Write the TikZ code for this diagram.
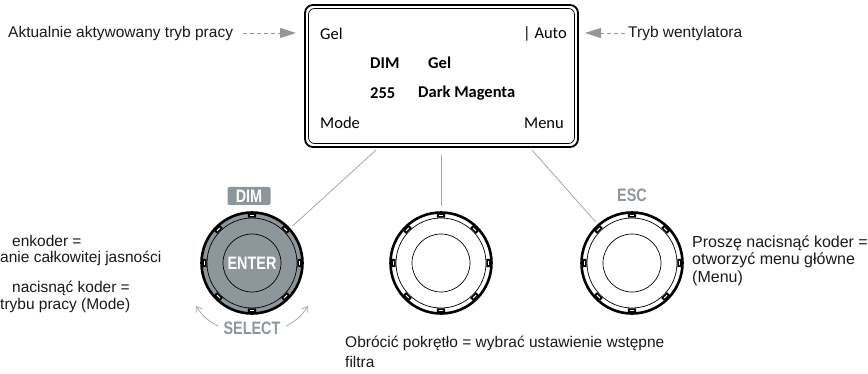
\documentclass[tikz,border=0pt]{standalone}
\usepackage{fontspec}
\setmainfont{Liberation Sans}
\newfontfamily\dispfont{Carlito}
\newfontfamily\capfont{Liberation Sans Bold}[FakeStretch=0.8]
\usetikzlibrary{arrows.meta}
\definecolor{knobgray}{RGB}{141,151,155}
\definecolor{tipgray}{RGB}{150,150,150}
\definecolor{leadgray}{RGB}{160,168,170}
\tikzset{
  desc/.style={font=\fontsize{15.5}{17.5}\selectfont, inner sep=0pt, text=black!90},
  disp/.style={font=\dispfont\fontsize{16.5}{19}\selectfont, inner sep=0pt},
  dispb/.style={font=\dispfont\bfseries\fontsize{16.5}{19}\selectfont, inner sep=0pt},
  pointer/.style={tipgray, dash pattern=on 4pt off 3pt, line width=0.9pt,
    -{Triangle[length=16pt,width=10pt]}},
  lead/.style={leadgray, line width=0.8pt, shorten >=3pt},
  knob/.style={circle, draw, line width=2.6pt, minimum size=101pt, inner sep=0pt},
  core/.style={circle, draw, line width=0.7pt, minimum size=58pt, inner sep=0pt},
  tag/.style={font=\capfont\fontsize{18}{20}\selectfont, inner sep=0pt},
  turn/.style={leadgray, line width=0.8pt, -{Straight Barb[length=5pt,width=7pt]}}
}
% ring detail of an encoder knob centred on a named node
\newcommand\knobring[1]{%
  \draw[line width=0.7pt] (#1.center) circle (45);
  \foreach \a in {0,45,...,315}{
    \draw[line width=4pt] ([shift={(\a-5:47.5)}]#1.center) arc (\a-5:\a+5:47.5);
    \draw[white, line width=1pt] ([shift={(\a-2.5:47.5)}]#1.center) arc (\a-2.5:\a+2.5:47.5);
  }}
\begin{document}
\begin{tikzpicture}[x=1pt,y=-1pt]
\useasboundingbox (0,0) rectangle (868,374);

% display
\node[draw, line width=1.8pt, rounded corners=8pt, minimum width=273pt, minimum height=142pt,
      inner sep=0pt] (disp) at (441.5,76) {};
\draw[line width=0.7pt, rounded corners=6pt] (308.5,8.5) rectangle (574.5,143.5);
\node[disp, anchor=west] (g1) at (320,34) {Gel};
\node[disp, anchor=east] (auto) at (567,34) {| Auto};
\node[dispb, anchor=west] (dim) at (370,63) {DIM};
\node[dispb, anchor=west] (g2) at (428,63) {Gel};
\node[dispb, anchor=west] (val) at (370,93) {255};
\node[dispb, anchor=west] (col) at (418,93) {Dark Magenta};
\node[disp, anchor=west] (mode) at (320,123) {Mode};
\node[disp, anchor=east] (menu) at (564,123) {Menu};

% callouts to the top row
\node[desc, anchor=west] (curmode) at (8,33) {Aktualnie aktywowany tryb pracy};
\coordinate (lstart) at (243,33);
\coordinate (ltip) at (296,33);
\draw[pointer] (lstart) -- (ltip);
\node[desc, anchor=west] (fan) at (628,33) {Tryb wentylatora};
\coordinate (rtip) at (585,33);
\coordinate (rstart) at (625,33);
\draw[pointer] (rstart) -- (rtip);

% encoder knobs
\node[knob, fill=knobgray] (k1) at (252,263) {};
\knobring{k1}
\node[core, fill=knobgray, text=white] (enter) at (k1) {\capfont\fontsize{18}{20}\selectfont ENTER};
\node[knob] (k2) at (441,263) {};
\knobring{k2}
\node[core] (c2) at (k2) {};
\node[knob] (k3) at (632,263) {};
\knobring{k3}
\node[core] (c3) at (k3) {};

% key captions
\node[tag, fill=knobgray, text=white, rounded corners=2pt, minimum width=43pt, minimum height=18pt]
  (dimkey) at (249,196) {DIM};
\node[tag, text=knobgray] (esc) at (632,195) {ESC};
\node[tag, text=knobgray] (sel) at (252,328) {SELECT};
\coordinate (sl0) at (218,326);
\coordinate (sl1) at (196,306);
\coordinate (sr0) at (286,326);
\coordinate (sr1) at (308,306);
\draw[turn] (sl0) to[bend left=15] (sl1);
\draw[turn] (sr0) to[bend right=15] (sr1);

% leader lines from the display
\coordinate (d1) at (376,150);
\coordinate (d2) at (441,155);
\coordinate (d3) at (532,150);
\draw[lead] (d1) -- (k1);
\draw[lead, shorten >=5pt] (d2) -- (k2);
\draw[lead] (d3) -- (k3);

% descriptions
\node[desc, anchor=west] (l1) at (12,241) {enkoder =};
\node[desc, anchor=west] (l2) at (0,258.5) {anie całkowitej jasności};
\node[desc, anchor=west] (l3) at (12,288) {nacisnąć koder =};
\node[desc, anchor=west] (l4) at (0,305.5) {trybu pracy (Mode)};
\node[desc, font=\fontsize{16}{18}\selectfont, anchor=west] (r1) at (692,243) {Proszę nacisnąć koder =};
\node[desc, font=\fontsize{16}{18}\selectfont, anchor=west] (r2) at (692,260.5) {otworzyć menu główne};
\node[desc, font=\fontsize{16}{18}\selectfont, anchor=west] (r3) at (692,278) {(Menu)};
\node[desc, anchor=west] (b1) at (345,343) {Obrócić pokrętło = wybrać ustawienie wstępne};
\node[desc, anchor=west] (b2) at (345,362) {filtra};
\end{tikzpicture}
\end{document}
